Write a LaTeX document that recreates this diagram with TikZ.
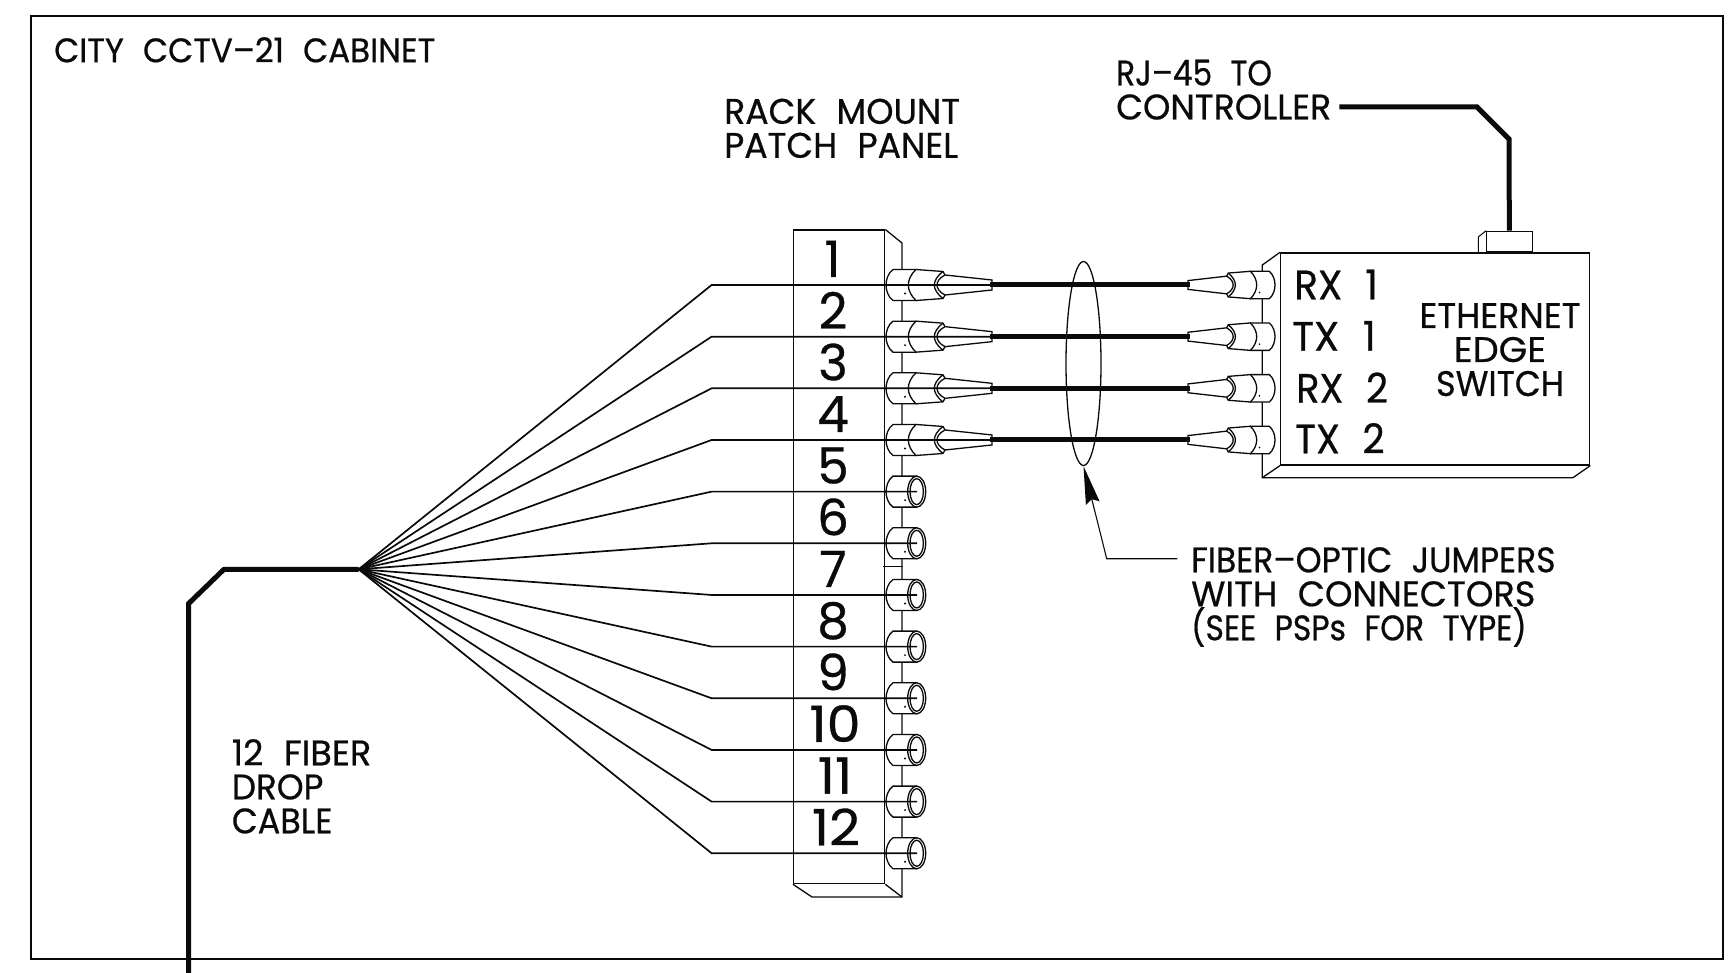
\documentclass[tikz,border=0pt]{standalone}
\usepackage{fontspec}
\usetikzlibrary{arrows.meta,shapes.geometric}
\setmainfont[WordSpace=2.2,FakeBold=0.6]{Poppins}
\newcommand{\fw}[1]{\addfontfeature{FakeStretch=#1}}
\definecolor{ink}{HTML}{0A0A0A}
\tikzset{
  x=1pt,y=-1pt,
  thinline/.style={draw=ink,line width=1.3pt,line join=miter},
  fineline/.style={draw=ink,line width=1pt,line join=miter},
  fiber/.style={draw=ink,line width=1.7pt},
  thick cable/.style={draw=ink,line width=5pt,line join=miter},
  jumper/.style={draw=ink,line width=5pt},
  frameline/.style={draw=ink,line width=1.8pt},
  lab/.style={inner sep=0pt,text=ink,font=\fontsize{35.5}{34}\selectfont,align=left,anchor=north west},
  port/.style={inner sep=0pt,text=ink,font=\fontsize{41}{41}\selectfont,anchor=base west},
  num/.style={inner sep=0pt,text=ink,font=\fontsize{50}{50}\selectfont,anchor=base},
  plug/.pic={
    \draw[thinline,fill=white] (7,-15.5) .. controls (2,-12) and (0,-5) .. (0,0) .. controls (0,5) and (2,12) .. (7,15.5) -- (30,15.5) -- (30,-15.5) -- cycle;
    \draw[thinline,fill=white] (30,-15.5) -- (57,-13.5) -- (59,-10) -- (59,10) -- (57,13.5) -- (30,15.5) .. controls (25,11) and (22.3,5) .. (22.3,0) .. controls (22.3,-5) and (25,-11) .. (30,-15.5) -- cycle;
    \draw[thinline,fill=white] (59,-10) -- (106,-5) -- (106,5) -- (59,10) .. controls (53,7) and (51,3) .. (51,0) .. controls (51,-3) and (53,-7) .. (59,-10) -- cycle;
    \draw[thinline] (57,-13.5) .. controls (51,-9) and (48.3,-4) .. (48.3,0) .. controls (48.3,4) and (51,9) .. (57,13.5);
    \fill[ink] (19,8.5) circle (1.1);
  },
  socket/.pic={
    \draw[thinline,fill=white] (7,-15.5) .. controls (2,-12) and (0,-5) .. (0,0) .. controls (0,5) and (2,12) .. (7,15.5) -- (30.7,15.5) -- (30.7,-15.5) -- cycle;
    \draw[thinline,fill=white] (30.7,0) ellipse (9 and 15.5);
    \draw[thinline] (30.7,0) ellipse (6.7 and 13);
    \fill[ink] (19,8.5) circle (1.1);
  }
}
\begin{document}
\begin{tikzpicture}
\useasboundingbox (0,0) rectangle (1730,973);
% cabinet
\node[frameline,draw,inner sep=0pt,minimum width=1692pt,minimum height=942.5pt,anchor=north west] (cabinet) at (30,15.5) {};
\node[lab,font=\fontsize{34}{34}\selectfont] (title) at (54,37) {\fw{0.957}CITY CCTV–21 CABINET};
\node[lab] (rack) at (724,98.5) {\fw{0.976}RACK MOUNT\\\fw{0.977}PATCH PANEL};
\node[lab] (rj) at (1116,59.5) {\fw{0.88}RJ–45 TO\\\fw{0.98}CONTROLLER};
\node[lab] (jumperlabel) at (1191,547) {\fw{0.931}FIBER–OPTIC JUMPERS\\\fw{0.988}WITH CONNECTORS\\\fw{0.886}(SEE PSPs FOR TYPE)};
\node[lab] (drop) at (231.7,739) {\fw{0.99}12 FIBER\\\fw{0.962}DROP\\\fw{0.943}CABLE};
% patch panel
\node[thinline,draw,inner sep=0pt,minimum width=91pt,minimum height=653.5pt,anchor=north west] (panel) at (793,229.5) {};
\coordinate (ptr) at (902,243);
\coordinate (pbr) at (902,897);
\coordinate (pbl) at (812,897);
\draw[thinline] (panel.north east) -- (ptr) -- (pbr) -- (pbl) -- (panel.south west);
\draw[thinline] (panel.south east) -- (pbr);
\coordinate (tickL) at (882.7,566.7);
\coordinate (tickR) at (902.7,566.7);
\draw[thinline] (tickL) -- (tickR);
% switch
\node[thinline,draw,fill=white,inner sep=0pt,minimum width=309pt,minimum height=212pt,anchor=north west] (switch) at (1280,252.3) {};
\coordinate (stl) at (1262.3,265);
\coordinate (sbl) at (1262.3,477.7);
\coordinate (sbr) at (1573,477.7);
\draw[thinline] (switch.north west) -- (stl) -- (sbl) -- (sbr) -- (switch.south east);
\draw[thinline] (switch.south west) -- (sbl);
\node[fineline,draw,inner sep=0pt,minimum width=45.7pt,minimum height=20.6pt,anchor=south west] (jack) at (1486,252.3) {};
\coordinate (jackA) at (1478.3,252.3);
\coordinate (jackB) at (1478.3,237);
\draw[fineline] (jackA) -- (jackB) -- (jack.north west);
% RJ-45 line
\coordinate (rj1) at (1339.4,107);
\coordinate (rj2) at (1477,107);
\coordinate (rj3) at (1509,139);
\draw[thick cable] (rj1) -- (rj2) -- (rj3) -- (jack.north);
\node[port] (rx1) at (1294,299.3) {\fw{0.955}RX 1};
\node[port] (tx1) at (1292,350.7) {\fw{0.985}TX 1};
\node[port] (rx2) at (1296,402.7) {\fw{0.937}RX 2};
\node[port] (tx2) at (1295,453.3) {\fw{0.938}TX 2};
\node[lab,align=center,anchor=north] (edge) at (1500,303) {\fw{0.981}ETHERNET\\\fw{1.035}EDGE\\\fw{0.946}SWITCH};
% fan-out
\coordinate (fan) at (358.6,569.3);
\foreach \i in {1,...,12}{
  \pgfmathsetmacro{\yy}{285+51.66*(\i-1)}
  \coordinate (bend\i) at (711.6,\yy);
  \coordinate (pp\i) at (886,\yy);
  \ifnum\i<5
    \pic at (pp\i) {plug};
    \coordinate (tipa\i) at (990,\yy);
    \coordinate (tipb\i) at (1190,\yy);
    \coordinate (sw\i) at (1275,\yy);
    \pic[xscale=-0.82,yscale=0.884] at (sw\i) {plug};
    \draw[jumper] (tipa\i) -- (tipb\i);
  \else
    \pic at (pp\i) {socket};
    \coordinate (tipa\i) at (917,\yy);
  \fi
  \draw[fiber] (fan) -- (bend\i) -- (tipa\i);
}
\foreach \i/\xx/\st in {1/832.5/1,2/833/1,3/833/1,4/833/1,5/833/1,6/833/1,7/833/1,8/833/1,9/833/1,10/835/1.08,11/835/1.08,12/836/1.08}{
  \pgfmathsetmacro{\yy}{277+51.66*(\i-1)}
  \node[num] (n\i) at (\xx,\yy) {\fw{\st}\i};
}
% drop cable
\coordinate (c0) at (188.7,975);
\coordinate (c1) at (188.7,603.5);
\coordinate (c2) at (224,569.3);
\draw[thick cable] (c0) -- (c1) -- (c2) -- (fan);
% bundle ring and leader
\node[thinline,draw,ellipse,inner sep=0pt,minimum width=35pt,minimum height=204pt] (ring) at (1083.5,363.5) {};
\coordinate (l0) at (1177.3,558.7);
\coordinate (l1) at (1106.7,558.7);
\draw[draw=ink,line width=1.1pt,-{Stealth[length=38pt,width=14pt,inset=4pt]}] (l0) -- (l1) -- (ring.south);
\end{tikzpicture}
\end{document}
